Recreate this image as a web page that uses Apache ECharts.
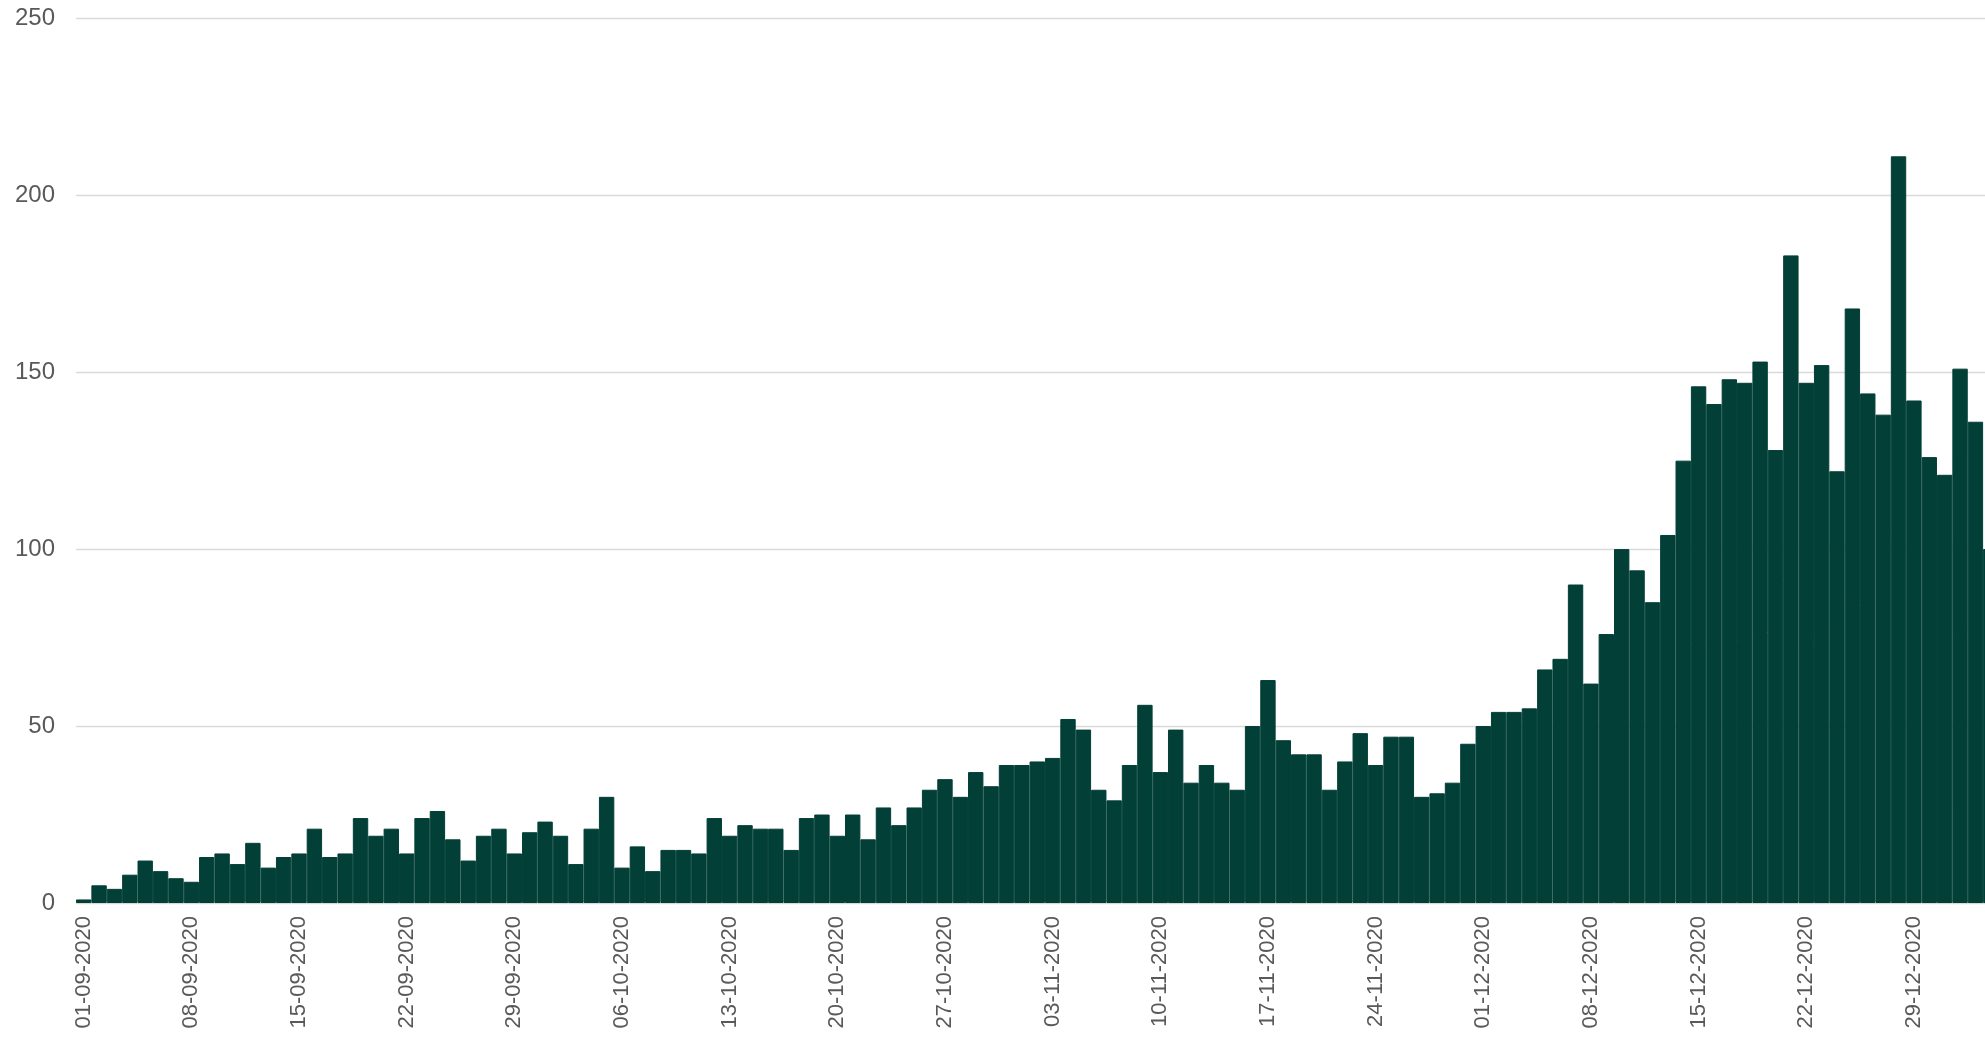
<!DOCTYPE html>
<html>
<head>
<meta charset="utf-8">
<script src="https://cdn.jsdelivr.net/npm/echarts@6/dist/echarts.min.js"></script>
<style>
  html, body { margin: 0; padding: 0; background: #ffffff; overflow: hidden; }
  #chart { width: 1999px; height: 1046px; }
</style>
</head>
<body>
<div id="chart"></div>
<script>
const dates = [
  "01-09-2020","02-09-2020","03-09-2020","04-09-2020","05-09-2020","06-09-2020","07-09-2020","08-09-2020","09-09-2020","10-09-2020",
  "11-09-2020","12-09-2020","13-09-2020","14-09-2020","15-09-2020","16-09-2020","17-09-2020","18-09-2020","19-09-2020","20-09-2020",
  "21-09-2020","22-09-2020","23-09-2020","24-09-2020","25-09-2020","26-09-2020","27-09-2020","28-09-2020","29-09-2020","30-09-2020",
  "01-10-2020","02-10-2020","03-10-2020","04-10-2020","05-10-2020","06-10-2020","07-10-2020","08-10-2020","09-10-2020","10-10-2020",
  "11-10-2020","12-10-2020","13-10-2020","14-10-2020","15-10-2020","16-10-2020","17-10-2020","18-10-2020","19-10-2020","20-10-2020",
  "21-10-2020","22-10-2020","23-10-2020","24-10-2020","25-10-2020","26-10-2020","27-10-2020","28-10-2020","29-10-2020","30-10-2020",
  "31-10-2020","01-11-2020","02-11-2020","03-11-2020","04-11-2020","05-11-2020","06-11-2020","07-11-2020","08-11-2020","09-11-2020",
  "10-11-2020","11-11-2020","12-11-2020","13-11-2020","14-11-2020","15-11-2020","16-11-2020","17-11-2020","18-11-2020","19-11-2020",
  "20-11-2020","21-11-2020","22-11-2020","23-11-2020","24-11-2020","25-11-2020","26-11-2020","27-11-2020","28-11-2020","29-11-2020",
  "30-11-2020","01-12-2020","02-12-2020","03-12-2020","04-12-2020","05-12-2020","06-12-2020","07-12-2020","08-12-2020","09-12-2020",
  "10-12-2020","11-12-2020","12-12-2020","13-12-2020","14-12-2020","15-12-2020","16-12-2020","17-12-2020","18-12-2020","19-12-2020",
  "20-12-2020","21-12-2020","22-12-2020","23-12-2020","24-12-2020","25-12-2020","26-12-2020","27-12-2020","28-12-2020","29-12-2020",
  "30-12-2020","31-12-2020","01-01-2021","02-01-2021","03-01-2021"
];

const cases = [
  1,5,4,8,12,9,7,6,13,14,11,17,10,13,14,21,13,14,24,19,21,14,24,26,18,12,19,21,14,
  20,23,19,11,21,30,10,16,9,15,15,14,24,19,22,21,21,15,24,25,19,25,18,27,22,27,32,35,30,
  37,33,39,39,40,41,52,49,32,29,39,56,37,49,34,39,34,32,50,63,46,
  42,42,32,40,48,39,47,47,30,31,34,45,50,54,54,55,66,69,90,62,
  76,100,94,85,104,125,146,141,148,147,153,128,183,
  147,152,122,168,144,138,211,142,126,121,151,136,100
];

const yMin = 0, yMax = 250, yStep = 50;

const chart = echarts.init(document.getElementById('chart'), null, { renderer: 'canvas' });
chart.setOption({
  animation: false,
  backgroundColor: '#ffffff',
  grid: { left: 76, right: 0.5, top: 18.3, bottom: 143, containLabel: false, outerBoundsMode: 'none' },
  xAxis: {
    type: 'category',
    data: dates,
    boundaryGap: true,
    axisLine: { show: false },
    axisTick: { show: false },
    axisLabel: {
      interval: 6,
      rotate: 90,
      margin: 13,
      color: '#595959',
      fontFamily: 'Liberation Sans, Arial, sans-serif',
      fontSize: 22
    }
  },
  yAxis: {
    type: 'value',
    min: yMin, max: yMax, interval: yStep,
    axisLine: { show: false },
    axisTick: { show: false },
    splitLine: { lineStyle: { color: '#d9d9d9', width: 1.3 } },
    axisLabel: {
      margin: 21,
      color: '#595959',
      fontFamily: 'Liberation Sans, Arial, sans-serif',
      fontSize: 24
    }
  },
  series: [{
    type: 'bar',
    data: cases,
    barCategoryGap: '0%',
    barGap: '0%',
    itemStyle: { color: '#023F37', borderColor: '#023F37', borderWidth: 1 }
  }]
});
</script>
</body>
</html>
